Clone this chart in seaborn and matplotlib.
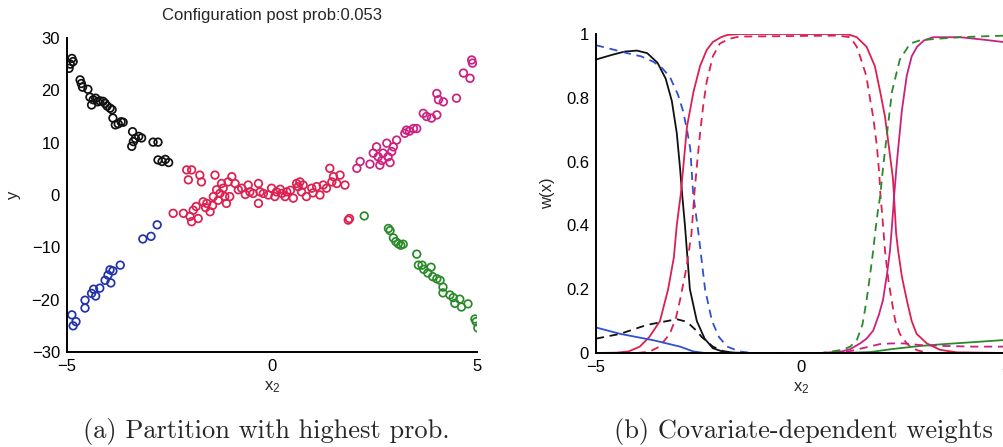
import numpy as np
import pandas as pd
import matplotlib
matplotlib.use("Agg")
import matplotlib.pyplot as plt
import seaborn as sns

sns.set_theme(style="white")
plt.rcParams["font.family"] = ["Liberation Sans", "DejaVu Sans"]
plt.rcParams["mathtext.default"] = "regular"
plt.rcParams["axes.unicode_minus"] = True

# ---------------- panel (a): clustered observations ----------------
black_x = [-4.95, -4.92, -4.88, -4.85, -4.68, -4.65, -4.62, -4.49, -4.44, -4.40, -4.36,
           -4.30, -4.25, -4.20, -4.12, -4.07, -4.02, -3.95, -3.90, -3.88, -3.82, -3.75,
           -3.68, -3.63, -3.40, -3.42, -3.38, -3.33, -3.25, -3.18, -2.90, -2.78, -2.78,
           -2.68, -2.60, -2.52]
black_y = [24.2, 25.0, 26.1, 25.5, 22.0, 21.3, 20.6, 20.2, 18.7, 17.2, 18.2,
           18.5, 17.8, 18.0, 17.9, 17.5, 17.0, 16.6, 16.3, 14.7, 13.4, 13.6,
           14.0, 13.9, 12.1, 9.3, 10.2, 10.8, 11.2, 10.9, 10.1, 10.1, 6.7,
           6.4, 6.8, 6.2]

blue_x = [-4.88, -4.85, -4.78, -4.56, -4.56, -4.40, -4.35, -4.30, -4.20, -4.07, -4.00,
          -3.95, -3.93, -3.88, -3.70, -3.15, -2.95, -2.80]
blue_y = [-22.9, -25.0, -24.2, -20.1, -21.6, -18.8, -18.0, -19.3, -17.8, -16.3, -15.3,
          -14.3, -16.8, -14.5, -13.4, -8.4, -7.9, -5.7]

red_x = [-2.41, -2.16, -2.00, -1.92, -1.96, -1.80, -2.08, -1.96, -2.04, -1.76, -1.72,
         -1.68, -1.59, -1.51, -1.43, -1.39, -1.35, -1.31, -1.27, -1.23, -1.19, -1.15,
         -1.11, -1.07, -1.03, -0.98, -0.90, -0.82, -0.74, -0.58, -0.54, -0.46, -0.33,
         -0.33, -0.29, -0.21, -0.09, -0.01, 0.07, 0.11, 0.24, 0.32, 0.36, 0.52,
         0.60, 0.64, 0.68, 0.72, 0.76, 0.84, 0.97, 1.09, 1.17, 1.25, 1.33,
         1.41, 1.46, 1.50, 1.58, 1.66, 1.78, 1.86, 1.89, -1.62, -1.45, -1.85,
         -0.65, 0.20, 0.45, 1.00]
red_y = [-3.5, -3.5, -4.1, -2.9, -5.1, -4.5, 4.8, 4.8, 2.9, 3.8, 2.5,
         -1.3, -1.6, -3.2, -0.3, 3.8, 1.0, -1.0, 0.3, 2.2, 1.3, -0.3,
         -1.6, 2.5, -0.3, 3.5, 2.2, 1.0, 1.3, 1.9, 0.6, 0.3, 2.2,
         -1.6, 0.6, 0.3, 0.0, 1.3, -0.3, 0.6, 0.3, -0.3, 0.6, -0.6,
         2.2, 1.6, 2.5, 0.6, 1.9, -0.3, 1.3, 1.6, 0.0, 1.9, 1.3,
         5.1, 2.5, 3.5, 2.2, 3.8, 1.9, -4.8, -4.5, -2.4, -2.0, -2.2,
         0.1, 1.1, 0.9, 0.4]

magenta_x = [2.07, 2.15, 2.39, 2.47, 2.55, 2.59, 2.63, 2.71, 2.80, 2.83, 2.92,
             2.96, 3.04, 3.24, 3.28, 3.45, 3.53, 3.69, 3.77, 3.89, 4.02, 4.02,
             4.06, 4.18, 4.50, 4.67, 4.83, 4.87, 4.89, 2.68, 2.88, 3.35]
magenta_y = [5.1, 6.4, 5.9, 8.0, 9.2, 7.3, 5.7, 8.0, 9.9, 7.3, 8.3,
             9.2, 10.5, 11.8, 12.4, 12.7, 12.7, 15.6, 15.0, 14.7, 15.3, 19.4,
             18.2, 17.8, 18.5, 23.3, 22.3, 25.8, 25.2, 6.6, 6.2, 12.2]

green_x = [2.25, 2.84, 2.88, 2.96, 3.02, 3.08, 3.14, 3.20, 3.53, 3.57, 3.66, 3.70,
           3.80, 3.88, 3.92, 4.02, 4.10, 4.17, 4.17, 4.34, 4.42, 4.46, 4.58,
           4.62, 4.78, 4.95, 4.98, 5.02]
green_y = [-4.0, -6.4, -6.8, -8.2, -8.9, -9.3, -9.6, -9.4, -11.3, -13.4, -13.4, -14.2,
           -14.9, -13.8, -15.6, -16.0, -16.3, -17.6, -18.7, -19.1, -19.6, -20.7,
           -19.9, -21.4, -20.8, -23.7, -24.2, -25.4]

# ---------------- panel (b): covariate-dependent weights ----------------
k_solid_x = [-5, -4.6, -4.3, -4.0, -3.75, -3.5, -3.3, -3.15, -3.03, -2.95, -2.9, -2.83,
             -2.71, -2.54, -2.35, -2.15, -1.9, -1.6, -1.2, 5]
k_solid_w = [0.92, 0.935, 0.945, 0.948, 0.94, 0.91, 0.86, 0.79, 0.69, 0.58, 0.50, 0.40,
             0.20, 0.10, 0.045, 0.015, 0.004, 0.001, 0.0, 0.0]

b_dash_x = [-5, -4.6, -4.24, -3.9, -3.6, -3.4, -3.2, -3.0, -2.88, -2.78, -2.7, -2.63,
            -2.5, -2.34, -2.17, -2.0, -1.8, -1.5, -1.2, 5]
b_dash_w = [0.965, 0.952, 0.94, 0.93, 0.913, 0.895, 0.866, 0.81, 0.76, 0.70, 0.64, 0.50,
            0.375, 0.20, 0.10, 0.05, 0.02, 0.005, 0.0, 0.0]

r_solid_x = [-5, -4.5, -4.2, -3.93, -3.7, -3.44, -3.24, -3.1, -3.03, -2.93, -2.78, -2.62,
             -2.46, -2.3, -2.15, -1.95, -1.8, -1.5, 1.0, 1.2, 1.36, 1.6, 1.8, 1.93,
             2.05, 2.15, 2.24, 2.27, 2.32, 2.37, 2.46, 2.58, 2.7, 2.82, 3.07, 3.39,
             3.8, 5]
r_solid_w = [0.0, 0.001, 0.005, 0.02, 0.05, 0.10, 0.20, 0.30, 0.40, 0.50, 0.71, 0.82,
             0.90, 0.95, 0.975, 0.99, 0.997, 1.0, 1.0, 0.997, 0.99, 0.96, 0.90, 0.82,
             0.74, 0.64, 0.55, 0.49, 0.375, 0.32, 0.24, 0.166, 0.10, 0.06, 0.03, 0.01,
             0.002, 0.0]

r_dash_x = [-5, -4.0, -3.7, -3.45, -3.2, -3.05, -2.95, -2.79, -2.67, -2.6, -2.53, -2.46,
            -2.38, -2.3, -2.15, -1.98, -1.75, -1.5, 0.9, 1.2, 1.36, 1.44, 1.59, 1.68,
            1.76, 1.85, 1.91, 1.94, 1.97, 2.05, 2.13, 2.21, 2.3, 2.41, 2.55, 2.66,
            2.85, 3.1, 5]
r_dash_w = [0.0, 0.0, 0.004, 0.02, 0.06, 0.11, 0.166, 0.27, 0.375, 0.5, 0.6, 0.69,
            0.78, 0.85, 0.93, 0.97, 0.985, 0.992, 0.995, 0.99, 0.96, 0.93, 0.87, 0.80,
            0.74, 0.65, 0.56, 0.49, 0.45, 0.32, 0.23, 0.166, 0.10, 0.06, 0.035, 0.02,
            0.008, 0.0, 0.0]

m_solid_x = [-5, 0.5, 1.0, 1.2, 1.44, 1.6, 1.76, 1.9, 2.0, 2.1, 2.17, 2.22, 2.27, 2.34,
             2.4, 2.46, 2.58, 2.7, 2.83, 3.0, 3.22, 3.5, 3.88, 4.4, 4.93, 5]
m_solid_w = [0.0, 0.0, 0.005, 0.012, 0.03, 0.045, 0.07, 0.12, 0.166, 0.25, 0.32, 0.40,
             0.49, 0.6, 0.68, 0.76, 0.87, 0.93, 0.96, 0.98, 0.99, 0.99, 0.99, 0.983,
             0.975, 0.974]

g_dash_x = [-5, 0.5, 1.02, 1.2, 1.36, 1.5, 1.6, 1.68, 1.76, 1.82, 1.88, 1.93, 2.0, 2.1,
            2.22, 2.41, 2.66, 2.9, 3.3, 3.88, 4.5, 5]
g_dash_w = [0.0, 0.0, 0.01, 0.02, 0.04, 0.09, 0.166, 0.24, 0.32, 0.39, 0.45, 0.49, 0.58,
            0.69, 0.82, 0.92, 0.97, 0.98, 0.985, 0.99, 0.993, 0.995]

g_solid_x = [-5, 1.0, 1.7, 2.2, 2.9, 3.5, 4.2, 5]
g_solid_w = [0.0, 0.0, 0.003, 0.012, 0.022, 0.028, 0.034, 0.041]

m_dash_x = [-5, 1.0, 1.27, 1.6, 1.93, 2.2, 2.5, 2.9, 3.5, 4.2, 5]
m_dash_w = [0.0, 0.0, 0.008, 0.018, 0.028, 0.03, 0.03, 0.025, 0.022, 0.02, 0.02]

b_solid_x = [-5, -4.41, -3.6, -2.95, -2.63, -2.35, 5]
b_solid_w = [0.08, 0.06, 0.04, 0.02, 0.005, 0.0, 0.0]

k_dash_x = [-5, -4.41, -3.76, -3.27, -3.03, -2.85, -2.7, -2.55, -2.42, -2.15, -1.9, -1.6, 5]
k_dash_w = [0.045, 0.06, 0.088, 0.10, 0.106, 0.10, 0.088, 0.07, 0.05, 0.02, 0.006, 0.0, 0.0]

BLACK = "#111111"
BLUE = "#2233aa"
BLUE_L = "#3050d0"
RED = "#dc2050"
MAGENTA = "#cc2080"
GREEN = "#2a8a2a"

fig = plt.figure(figsize=(10.04, 4.47), dpi=100)
ax1 = fig.add_axes([0.0667, 0.2125, 0.4084, 0.7025])
ax2 = fig.add_axes([0.5936, 0.2103, 0.4084, 0.7136])

clusters = [(black_x, black_y, BLACK), (blue_x, blue_y, BLUE), (red_x, red_y, RED),
            (magenta_x, magenta_y, MAGENTA), (green_x, green_y, GREEN)]
for xs, ys, col in clusters:
    sns.scatterplot(x=xs, y=ys, ax=ax1, marker="o", s=30, color=col,
                    facecolor="none", edgecolor=col, linewidth=1.25)

ax1.set_xlim(-5, 5)
ax1.set_ylim(-30, 30)
ax1.set_xticks([-5, 0, 5])
ax1.set_yticks([-30, -20, -10, 0, 10, 20, 30])
ax1.set_xlabel("x$_2$", fontsize=12)
ax1.set_ylabel("y", fontsize=12, labelpad=8)
ax1.set_title("Configuration post prob:0.053", fontsize=12, pad=13)

dash = (4.5, 3.2)
curves = [
    (k_solid_x, k_solid_w, BLACK, None),
    (b_dash_x, b_dash_w, BLUE_L, dash),
    (r_solid_x, r_solid_w, RED, None),
    (r_dash_x, r_dash_w, RED, dash),
    (m_solid_x, m_solid_w, MAGENTA, None),
    (g_dash_x, g_dash_w, GREEN, dash),
    (g_solid_x, g_solid_w, GREEN, None),
    (m_dash_x, m_dash_w, MAGENTA, dash),
    (b_solid_x, b_solid_w, BLUE_L, None),
    (k_dash_x, k_dash_w, BLACK, dash),
]
for xs, ws, col, dsh in curves:
    line = sns.lineplot(x=xs, y=ws, ax=ax2, color=col, linewidth=1.3,
                        estimator=None, sort=False)
    if dsh is not None:
        line.lines[-1].set_dashes(dsh)

ax2.set_xlim(-5, 5)
ax2.set_ylim(0, 1)
ax2.set_xticks([-5, 0, 5])
ax2.set_yticks([0, 0.2, 0.4, 0.6, 0.8, 1.0])
ax2.set_yticklabels(["0", "0.2", "0.4", "0.6", "0.8", "1"])
ax2.set_xlabel("x$_2$", fontsize=12)
ax2.set_ylabel("w(x)", fontsize=12, labelpad=8)

for ax in (ax1, ax2):
    sns.despine(ax=ax)
    for sp in ("left", "bottom"):
        ax.spines[sp].set_linewidth(1.4)
        ax.spines[sp].set_color("black")
    ax.tick_params(direction="in", length=5, width=1.2, labelsize=12,
                   colors="black", pad=5)
    ax.set_facecolor("none")
    ax.grid(False)

fig.text(0.265, 0.034, "(a) Partition with highest prob.", ha="center", va="center",
         fontsize=19, family="cmr10")
fig.text(0.8, 0.034, "(b) Covariate-dependent weights", ha="center", va="center",
         fontsize=19, family="cmr10")

fig.savefig("out.png", dpi=100)
